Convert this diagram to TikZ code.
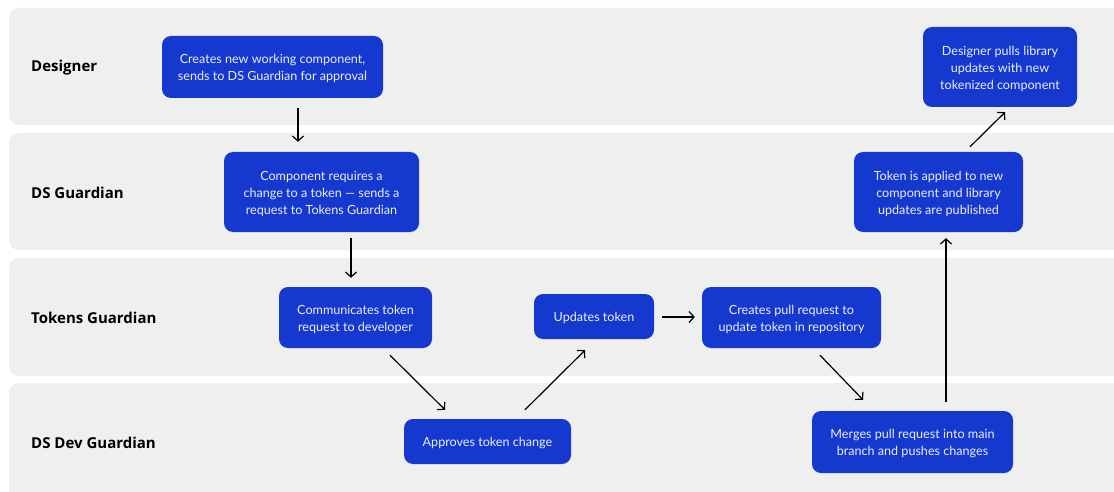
\documentclass[tikz,border=0pt]{standalone}
\usepackage{fontspec}
\setmainfont{Open Sans}
\newfontfamily\taskfont{Lato}
\usetikzlibrary{arrows.meta,calc}
\definecolor{lanebg}{HTML}{EFEFEF}
\definecolor{boxblue}{HTML}{1538CE}
\definecolor{boxtext}{HTML}{ECEEFF}
\tikzset{
  lane/.style={fill=lanebg, draw=none, rounded corners=10pt},
  lanelabel/.style={anchor=west, inner sep=0pt, font=\fontsize{15}{18}\selectfont\bfseries, text=black},
  task/.style={fill=boxblue, draw=none, rounded corners=9pt, inner sep=0pt},
  tasktext/.style={text=boxtext, align=center, inner sep=0pt, yshift=-1.8pt,
    font=\taskfont\fontsize{12.6}{17}\selectfont},
  flow/.style={draw=black, line width=1.2pt, -{Straight Barb[length=5pt,width=11pt,line width=1.2pt]}},
}
\begin{document}
\begin{tikzpicture}[x=1pt,y=-1pt]
\useasboundingbox (0,0) rectangle (1114,492);
\fill[white] (0,0) rectangle (1114,492);
% lanes
\path[lane] (9,8) rectangle (1124,125);
\path[lane] (9,133) rectangle (1124,250);
\path[lane] (9,258) rectangle (1124,376);
\path[lane] (9,383) rectangle (1124,502);
\node[lanelabel] (l1) at (31,68) {Designer};
\node[lanelabel] (l2) at (31,193) {DS Guardian};
\node[lanelabel] (l3) at (31,318) {Tokens Guardian};
\node[lanelabel] (l4) at (31,443) {DS Dev Guardian};
% tasks
\node[task, minimum width=221pt, minimum height=62pt, label={[tasktext]center:Creates new working component,\\sends to DS Guardian for approval}] (t1) at (272.5,67) {};
\node[task, minimum width=195pt, minimum height=80pt, label={[tasktext]center:Component requires a\\change to a token — sends a\\request to Tokens Guardian}] (t2) at (321.5,192) {};
\node[task, minimum width=153pt, minimum height=61pt, label={[tasktext]center:Communicates token\\request to developer}] (t3) at (355.5,317.5) {};
\node[task, minimum width=167pt, minimum height=45pt, label={[tasktext]center:Approves token change}] (t4) at (487.5,441.5) {};
\node[task, minimum width=120pt, minimum height=45pt, label={[tasktext]center:Updates token}] (t5) at (594,316.5) {};
\node[task, minimum width=179pt, minimum height=61pt, label={[tasktext]center:Creates pull request to\\update token in repository}] (t6) at (791.5,317.5) {};
\node[task, minimum width=201pt, minimum height=62pt, label={[tasktext]center:Merges pull request into main\\branch and pushes changes}] (t7) at (912.5,442) {};
\node[task, minimum width=169pt, minimum height=80pt, label={[tasktext]center:Token is applied to new\\component and library\\updates are published}] (t8) at (938.5,192) {};
\node[task, minimum width=154pt, minimum height=80pt, label={[tasktext]center:Designer pulls library\\updates with new\\tokenized component}] (t9) at (1000,67) {};
% connectors
\draw[flow] ($(t1.south)+(25.5,10)$) -- ($(t2.north)+(-23.5,-10)$);
\draw[flow] ($(t2.south)+(29.5,6)$) -- ($(t3.north)+(-4.5,-9)$);
\draw[flow] ($(t3.south)+(34.5,7)$) -- ($(t4.north)+(-42.5,-9)$);
\draw[flow] ($(t4.north)+(37.5,-9)$) -- ($(t5.south)+(-9,11)$);
\draw[flow] ($(t5.east)+(8,0.5)$) -- ($(t6.west)+(-7,-0.5)$);
\draw[flow] ($(t6.south)+(28.5,7)$) -- ($(t7.north)+(-49.5,-11)$);
\draw[flow] ($(t7.north)+(33.5,-9)$) -- ($(t8.south)+(7.5,6)$);
\draw[flow] ($(t8.north)+(31.5,-5)$) -- ($(t9.south)+(5,5)$);
\end{tikzpicture}
\end{document}
